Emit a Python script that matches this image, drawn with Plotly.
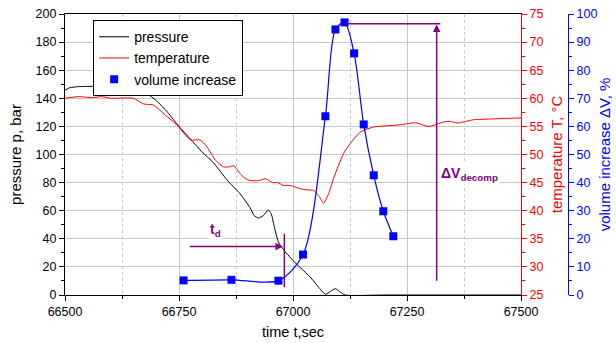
import plotly.graph_objects as go

# ---- data ----
p_time = [66500, 66510, 66530, 66560, 66600, 66640, 66660, 66672, 66700, 66725,
          66750, 66775, 66800, 66826, 66855, 66884, 66906, 66915, 66924, 66935,
          66946, 66952, 66960, 66969, 66985, 67000, 67016, 67038, 67055, 67071,
          67082, 67093, 67104, 67115, 67200, 67500]
p_bar = [145.8, 147.5, 148.3, 148.5, 148.3, 148.3, 147.5, 145, 138.5, 130,
         120, 111, 102, 94, 82, 72, 62, 56.5, 54.8, 56.5,
         60.5, 58, 47, 37, 30, 24.6, 19.5, 12.7, 6, 0.5,
         2.5, 4.5, 2, 0, 0, 0]

t_time = [66500, 66530, 66560, 66580, 66600, 66650, 66672, 66694, 66720, 66745,
          66775, 66796, 66810, 66830, 66848, 66860, 66870, 66885, 66900, 66922,
          66940, 66955, 66966, 66980, 66994, 67016, 67031, 67045, 67058, 67067,
          67078, 67090, 67111, 67126, 67148, 67177, 67206, 67236, 67260, 67272,
          67297, 67331, 67345, 67360, 67397, 67430, 67455, 67500]
t_degc = [60.0, 60.3, 60.1, 60.3, 60.0, 60.0, 59.0, 58.8, 57.0, 55.3,
          52.6, 52.6, 51.5, 49.0, 47.8, 47.8, 48.0, 46.5, 45.5, 45.3,
          45.7, 45.0, 45.0, 44.5, 44.5, 43.9, 43.7, 43.6, 42.5, 41.3,
          43.0, 46.0, 50.2, 52.0, 54.0, 54.9, 55.1, 55.3, 55.6, 55.6,
          55.0, 55.8, 55.9, 55.6, 56.2, 56.3, 56.4, 56.5]

v_time = [66760, 66865, 66968, 67022, 67071, 67093, 67113, 67134, 67155, 67177, 67198, 67220]
v_pct = [5.2, 5.4, 5.1, 14.4, 63.6, 94.5, 97, 86, 60.7, 42.6, 29.8, 20.9]

x_ticks = [66500, 66750, 67000, 67250, 67500]
x_tick_labels = ["66500", "66750", "67000", "67250", "67500"]

# annotation anchors (data coordinates)
td_start, td_end, td_y = 66771, 66978, 34.6
td_bar_x, td_bar_y0, td_bar_y1 = 66981, 5.6, 43.6
dv_x, dv_y0, dv_y1 = 67315, 9.1, 192.5
dv_top_x0, dv_top_x1 = 67115, 67323

FONT = "Liberation Sans, Arial, sans-serif"
PURPLE = "#800080"
GRID = "#c8c8c8"

fig = go.Figure()
fig.add_trace(go.Scatter(x=p_time, y=p_bar, name="pressure", mode="lines",
                         line=dict(color="black", width=1, shape="spline", smoothing=0.6),
                         yaxis="y"))
fig.add_trace(go.Scatter(x=t_time, y=t_degc, name="temperature", mode="lines",
                         line=dict(color="#ff0000", width=1, shape="spline", smoothing=0.6),
                         yaxis="y2"))
fig.add_trace(go.Scatter(x=v_time, y=v_pct, name="volume increase line", mode="lines",
                         line=dict(color="#0000ff", width=1.2, shape="spline", smoothing=0.8),
                         showlegend=False, yaxis="y3"))
fig.add_trace(go.Scatter(x=v_time, y=v_pct, name="volume increase", mode="markers",
                         marker=dict(symbol="square", size=8, color="#0000ff"),
                         yaxis="y3"))

# t_d arrow
fig.add_annotation(x=td_end, y=td_y, ax=td_start, ay=td_y, xref="x", yref="y",
                   axref="x", ayref="y", showarrow=True, arrowhead=2, arrowsize=1,
                   arrowwidth=1.5, arrowcolor=PURPLE, text="")
fig.add_shape(type="line", x0=td_bar_x, x1=td_bar_x, y0=td_bar_y0, y1=td_bar_y1,
              xref="x", yref="y", line=dict(color=PURPLE, width=1.5))
fig.add_annotation(x=66829, y=46, xref="x", yref="y", showarrow=False,
                   text="<b>t<sub>d</sub></b>", font=dict(family=FONT, size=14, color=PURPLE),
                   bgcolor="white", borderpad=1)

# dV arrow
fig.add_annotation(x=dv_x, y=dv_y1, ax=dv_x, ay=dv_y0, xref="x", yref="y",
                   axref="x", ayref="y", showarrow=True, arrowhead=2, arrowsize=1,
                   arrowwidth=1.5, arrowcolor=PURPLE, text="")
fig.add_shape(type="line", x0=dv_top_x0, x1=dv_top_x1, y0=193, y1=193,
              xref="x", yref="y", line=dict(color=PURPLE, width=1.5))
fig.add_annotation(x=67387, y=86, xref="x", yref="y", showarrow=False,
                   text="<b>ΔV<sub>decomp</sub></b>", font=dict(family=FONT, size=14, color=PURPLE),
                   bgcolor="white", borderpad=1)

tickfont = dict(family=FONT, size=12.5, color="black")
fig.update_layout(
    width=616, height=343,
    margin=dict(l=65, r=48, t=14, b=48),
    paper_bgcolor="white", plot_bgcolor="white",
    font=dict(family=FONT, size=13, color="black"),
    showlegend=True,
    legend=dict(x=0.056, y=0.978, xanchor="left", yanchor="top",
                bgcolor="white", bordercolor="black", borderwidth=1,
                font=dict(family=FONT, size=14, color="black"),
                tracegroupgap=0, itemwidth=30),
    xaxis=dict(domain=[0, 0.9066], range=[66500, 67500], tickvals=x_ticks,
               ticktext=x_tick_labels, automargin=False,
               showline=True, linecolor="black", linewidth=1.2, mirror=True,
               ticks="outside", ticklen=5, tickcolor="black",
               showgrid=True, gridcolor=GRID, gridwidth=1,
               zeroline=False, tickfont=tickfont,
               minor=dict(dtick=125, tick0=66500, ticks="outside", ticklen=3,
                          tickcolor="black", showgrid=True, gridcolor=GRID,
                          griddash="dot", gridwidth=1),
               title=dict(text="time t,sec", font=dict(family=FONT, size=14.5), standoff=8)),
    yaxis=dict(range=[0, 200], dtick=20, showline=True, linecolor="black", linewidth=1.2,
               automargin=False,
               ticks="outside", ticklen=5, tickcolor="black",
               showgrid=True, gridcolor=GRID, gridwidth=1, zeroline=False,
               tickfont=tickfont,
               minor=dict(dtick=10, ticks="outside", ticklen=3, tickcolor="black", showgrid=False),
               title=dict(text="pressure p, bar", font=dict(family=FONT, size=15), standoff=10)),
    yaxis2=dict(range=[25, 75], dtick=5, overlaying="y", side="right", anchor="x",
                automargin=False,
                showline=True, linecolor="#ff0000", linewidth=1.2,
                ticks="outside", ticklen=5, tickcolor="#ff0000",
                showgrid=False, zeroline=False,
                tickfont=dict(family=FONT, size=12.5, color="#ff0000"),
                minor=dict(dtick=2.5, ticks="outside", ticklen=3, tickcolor="#ff0000", showgrid=False),
                title=dict(text="temperature T, °C", font=dict(family=FONT, size=15, color="#ff0000"),
                           standoff=8)),
    yaxis3=dict(range=[0, 100], dtick=10, overlaying="y", side="right", anchor="free",
                position=1.0, showline=True, linecolor="#0000ff", linewidth=1.2,
                automargin=False,
                ticks="outside", ticklen=5, tickcolor="#0000ff",
                showgrid=False, zeroline=False,
                tickfont=dict(family=FONT, size=12.5, color="#0000ff"),
                minor=dict(dtick=5, ticks="outside", ticklen=3, tickcolor="#0000ff", showgrid=False),
                title=dict(text="volume increase ΔV, %", font=dict(family=FONT, size=15, color="#0000ff"),
                           standoff=2)),
)

fig.write_html("out.html")
